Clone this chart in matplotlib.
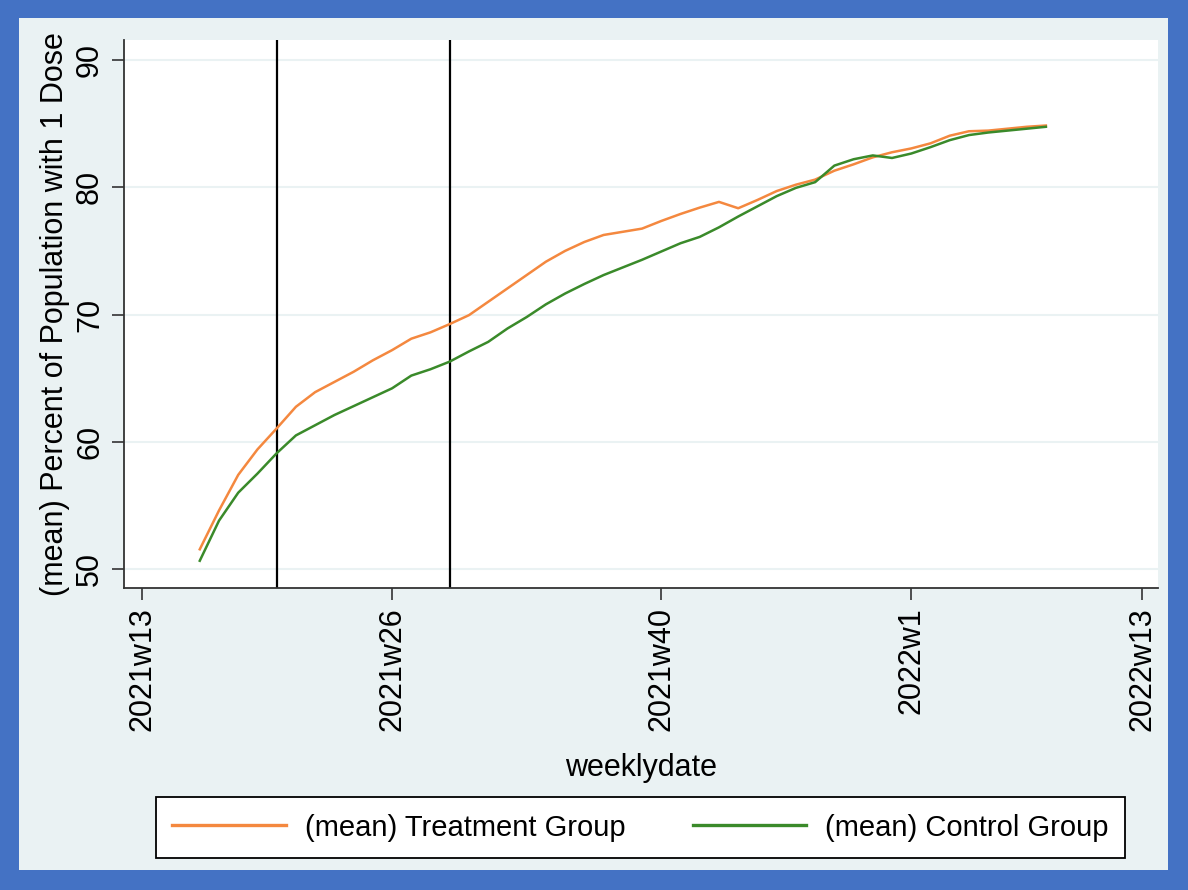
import numpy as np
import matplotlib
matplotlib.use("Agg")
import matplotlib.pyplot as plt
from matplotlib.patches import Rectangle

plt.rcParams["font.family"] = ["Liberation Sans", "DejaVu Sans"]

# weeks counted from 2021w0 (2022w1 = 53); 2021w16 .. 2022w8
weeks = np.arange(16, 61)

treatment = [
    51.55, 54.6, 57.4, 59.4, 61.05, 62.75, 63.9, 64.7, 65.5, 66.4,
    67.2, 68.1, 68.6, 69.25, 69.95, 71.0, 72.05, 73.1, 74.15, 75.0,
    75.7, 76.25, 76.5, 76.75, 77.35, 77.9, 78.4, 78.85, 78.35, 79.0,
    79.7, 80.2, 80.6, 81.3, 81.8, 82.35, 82.75, 83.05, 83.45, 84.05,
    84.4, 84.45, 84.6, 84.75, 84.85,
]
control = [
    50.65, 53.8, 56.0, 57.5, 59.1, 60.5, 61.3, 62.1, 62.8, 63.5,
    64.2, 65.2, 65.7, 66.3, 67.1, 67.85, 68.9, 69.8, 70.8, 71.65,
    72.4, 73.1, 73.7, 74.3, 74.95, 75.6, 76.1, 76.85, 77.7, 78.5,
    79.3, 79.95, 80.4, 81.7, 82.2, 82.5, 82.3, 82.65, 83.15, 83.7,
    84.1, 84.3, 84.45, 84.6, 84.75,
]

event_weeks = [20, 29]
xtick_pos = [13, 26, 40, 53, 65]
xtick_labels = ["2021w13", "2021w26", "2021w40", "2022w1", "2022w13"]
ytick_pos = [50, 60, 70, 80, 90]

W, H = 1188, 890
BG = "#EAF2F3"
BLUE = "#4472C4"
ORANGE = "#F4883F"
GREEN = "#3A8A2A"

fig = plt.figure(figsize=(W / 100, H / 100), dpi=100)
fig.patch.set_facecolor(BLUE)
fig.patches.append(Rectangle((19 / W, 20 / H), (1168 - 19) / W, (870 - 18) / H,
                             transform=fig.transFigure, facecolor=BG,
                             edgecolor="none", zorder=-10))

ax = fig.add_axes([124 / W, 1 - 588 / H, (1158 - 124) / W, (588 - 40) / H])
ax.set_facecolor("white")

ax.plot(weeks, treatment, color=ORANGE, linewidth=1.8, label="(mean) Treatment Group")
ax.plot(weeks, control, color=GREEN, linewidth=1.8, label="(mean) Control Group")
for w in event_weeks:
    ax.axvline(w, color="black", linewidth=1.6, zorder=1)

ax.set_xlim(12.06, 65.83)
ax.set_ylim(48.51, 91.57)
ax.set_xticks(xtick_pos)
ax.set_xticklabels(xtick_labels, rotation=90, fontsize=22)
ax.set_yticks(ytick_pos)
ax.set_yticklabels([str(v) for v in ytick_pos], rotation=90, va="center", fontsize=22)
ax.tick_params(axis="both", direction="out", length=8.6, width=1.2, color="#333333")
ax.tick_params(axis="x", pad=5)
ax.tick_params(axis="y", pad=5)
ax.grid(axis="y", color=BG, linewidth=1.5)
ax.set_axisbelow(True)

for side in ["top", "right"]:
    ax.spines[side].set_visible(False)
for side in ["left", "bottom"]:
    ax.spines[side].set_color("#333333")
    ax.spines[side].set_linewidth(1.3)

ax.set_xlabel("weeklydate", fontsize=22, va="center")
ax.xaxis.set_label_coords(0.5, -(768 - 588) / (588 - 40))
ax.set_ylabel("(mean) Percent of Population with 1 Dose", fontsize=22, va="center")
ax.yaxis.set_label_coords(-(124 - 55) / (1158 - 124), 0.5)

leg = fig.legend(
    loc="center",
    bbox_to_anchor=(640.5 / W, 1 - 827.5 / H),
    ncol=2,
    fontsize=21,
    frameon=True,
    fancybox=False,
    edgecolor="black",
    facecolor="white",
    framealpha=1,
    handlelength=3.9,
    handletextpad=0.65,
    columnspacing=2.3,
    borderpad=0.55,
    borderaxespad=0,
)
leg.get_frame().set_linewidth(1.3)
for line in leg.get_lines():
    line.set_linewidth(2.4)

fig.savefig("out.png", dpi=100, facecolor=fig.get_facecolor())
